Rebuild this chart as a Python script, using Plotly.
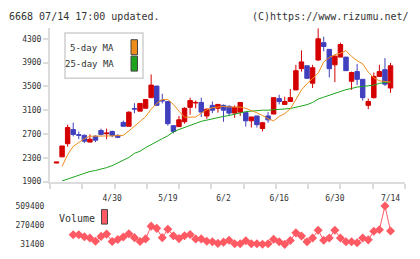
import plotly.graph_objects as go

# ---- data ----
date_labels = ["4/30", "5/19", "6/2", "6/16", "6/30", "7/14"]
label_idx = [10, 20, 30, 40, 50, 60]

opens = [2212, 2316, 2538, 2775, 2690, 2678, 2564, 2662, 2759, 2705,
         2743, 2678, 2895, 2830, 3130, 3085, 3133, 3312, 3507, 3268,
         3247, 2841, 2825, 2906, 3150, 3222, 3231, 3004, 3182, 3133,
         3182, 3166, 3052, 3069, 3060, 2922, 3004, 2793, 3004, 3036,
         3296, 3198, 3247, 3442, 3799, 3848, 3555, 3945, 4237, 4124,
         3864, 3994, 3994, 3588, 3750, 3620, 3182, 3312, 3669, 3783,
         3474]
highs = [2228, 2499, 2858, 2890, 2743, 2694, 2694, 2678, 2791, 2791,
         2759, 2694, 2927, 3083, 3219, 3215, 3280, 3702, 3507, 3377,
         3247, 2841, 3004, 3150, 3312, 3263, 3312, 3133, 3247, 3198,
         3198, 3182, 3182, 3231, 3060, 2987, 3004, 2906, 3069, 3312,
         3361, 3328, 3458, 3864, 4107, 3848, 3864, 4481, 4335, 4124,
         4026, 4237, 3994, 3750, 3880, 3620, 3296, 3734, 3864, 3977,
         3896]
lows = [2212, 2316, 2489, 2661, 2613, 2548, 2564, 2564, 2678, 2613,
        2645, 2629, 2830, 2830, 3050, 3085, 3133, 3312, 3182, 3215,
        2841, 2712, 2825, 2874, 3025, 3133, 2987, 2955, 3052, 3060,
        2906, 3004, 2971, 3004, 2825, 2809, 2809, 2744, 2890, 3036,
        3198, 3198, 3247, 3442, 3750, 3637, 3474, 3929, 4091, 3653,
        3572, 3994, 3766, 3442, 3523, 3263, 3117, 3296, 3669, 3507,
        3393]
closes = [2228, 2499, 2809, 2694, 2680, 2580, 2613, 2597, 2694, 2716,
          2678, 2645, 2830, 3067, 3120, 3215, 3280, 3523, 3182, 3258,
          2874, 2744, 2939, 3133, 3263, 3231, 3069, 3117, 3101, 3198,
          3101, 3052, 3150, 3231, 2922, 2987, 2858, 2890, 2939, 3312,
          3247, 3247, 3312, 3766, 3913, 3637, 3815, 4302, 4172, 3799,
          4010, 4205, 3766, 3734, 3620, 3312, 3247, 3669, 3750, 3539,
          3848]

ma5 = [None, 2155, 2354, 2492, 2565, 2622, 2663, 2668, 2668, 2668,
       2668, 2671, 2679, 2752, 2825, 2911, 2992, 3117, 3215, 3280,
       3280, 3198, 3085, 2983, 2983, 2987, 3052, 3109, 3142, 3158,
       3166, 3155, 3153, 3153, 3133, 3101, 3057, 3012, 2955, 2922,
       2996, 3044, 3125, 3280, 3442, 3547, 3628, 3723, 3913, 3986,
       4034, 4059, 4102, 4005, 3934, 3880, 3742, 3645, 3596, 3580,
       3572]
ma25 = [None, 1911, 1944, 1976, 2001, 2030, 2070, 2087, 2106, 2135,
        2168, 2216, 2252, 2306, 2376, 2411, 2471, 2517, 2565, 2622,
        2671, 2736, 2776, 2809, 2841, 2882, 2914, 2934, 2958, 2979,
        2996, 3012, 3036, 3060, 3077, 3085, 3096, 3101, 3101, 3106,
        3109, 3114, 3129, 3150, 3169, 3194, 3231, 3288, 3320, 3353,
        3385, 3421, 3447, 3466, 3491, 3499, 3507, 3523, 3552, 3567,
        3580]

volumes = [None, None, None,
           151000, 151000, 127000, 111500, 70800, 130600, 159300, 67250, 91150, 123400,
           162850, 115000, 67250, 99500, 258500, 231000, 115000, 219000, 139000, 103100,
           139000, 154500, 99500, 99500, 70800, 63700, 43350, 58900, 82800, 39800,
           39800, 75600, 39800, 39800, 33000, 39800, 94700, 63700, 31400, 79200,
           174800, 135400, 63700, 111500, 207000, 82800, 111500, 207000, 111500, 63700,
           63700, 51700, 111500, 87600, 195100, 214200, 509400, 198700]

price_ticks = [1900, 2300, 2700, 3100, 3500, 3900, 4300]
vol_ticks = [31400, 270400, 509400]

# ---- figure ----
W, H = 420, 259
FONT = "DejaVu Sans Mono"
x = list(range(len(opens)))

def px(v):
    return v / W

def py(v):
    return 1 - v / H

fig = go.Figure()
fig.add_trace(go.Scatter(x=x, y=ma25, mode="lines", line=dict(color="#1ca51c", width=1),
                         hoverinfo="skip"))
fig.add_trace(go.Scatter(x=x, y=ma5, mode="lines", line=dict(color="#f08c1a", width=1),
                         hoverinfo="skip"))
fig.add_trace(go.Candlestick(
    x=x, open=opens, high=highs, low=lows, close=closes,
    increasing=dict(line=dict(color="#d40000", width=1), fillcolor="#d40000"),
    decreasing=dict(line=dict(color="#4040bf", width=1), fillcolor="#4040bf"),
    whiskerwidth=0, hoverinfo="skip"))
fig.add_trace(go.Scatter(x=x, y=volumes, xaxis="x2", yaxis="y2", mode="lines+markers",
                         line=dict(color="#ff5a64", width=1),
                         marker=dict(symbol="diamond", size=7, color="#ff5a64"),
                         cliponaxis=False, hoverinfo="skip"))

xr = [-1.17, 62.6]
axis_col = "#dcdcdc"
fig.update_layout(
    width=W, height=H, margin=dict(l=0, r=0, t=0, b=0),
    paper_bgcolor="white", plot_bgcolor="white", showlegend=False,
    boxgap=0.2, boxgroupgap=0,
    font=dict(family=FONT, size=8, color="#333333"),
    xaxis=dict(domain=[px(50), px(405)], range=xr, anchor="y",
               rangeslider=dict(visible=False),
               tickmode="array", tickvals=label_idx, ticktext=date_labels,
               ticks="outside", ticklen=8, tickcolor="rgba(0,0,0,0)",
               showline=True, linecolor=axis_col, linewidth=2,
               showgrid=False, zeroline=False,
               tickfont=dict(family=FONT, size=8, color="#333333"),
               minor=dict(ticks="outside", ticklen=5, tickcolor=axis_col, tickwidth=2,
                          tickmode="linear", tick0=xr[0], dtick=(xr[1] - xr[0]) / 11,
                          showgrid=False)),
    yaxis=dict(domain=[py(184), py(25)], range=[1900, 4481], anchor="x",
               tickmode="array", tickvals=price_ticks,
               ticks="outside", ticklen=5, tickcolor=axis_col, tickwidth=2,
               showline=True, linecolor=axis_col, linewidth=2,
               showgrid=False, zeroline=False,
               tickfont=dict(family=FONT, size=8, color="#333333")),
    xaxis2=dict(domain=[px(50), px(405)], range=xr, anchor="y2", visible=False),
    yaxis2=dict(domain=[py(249), py(209.3)], range=[vol_ticks[0], vol_ticks[-1]], anchor="x2",
                tickmode="array", tickvals=vol_ticks, ticktext=[str(v) for v in vol_ticks],
                ticks="outside", ticklen=3, tickcolor="rgba(0,0,0,0)",
                showline=False, showgrid=False, zeroline=False,
                tickfont=dict(family=FONT, size=8, color="#333333")),
)

ann = [
    dict(text="6668 07/14 17:00 updated.", x=px(7), y=py(13), xanchor="left", yanchor="middle",
         font=dict(size=10)),
    dict(text="(C)https://www.rizumu.net/", x=px(411), y=py(13), xanchor="right", yanchor="middle",
         font=dict(size=10)),
    dict(text="5-day MA", x=px(116), y=py(45.5), xanchor="right", yanchor="middle",
         font=dict(size=9)),
    dict(text="25-day MA", x=px(116), y=py(62.5), xanchor="right", yanchor="middle",
         font=dict(size=9)),
    dict(text="Volume", x=px(57), y=py(222), xanchor="left", yanchor="middle",
         font=dict(size=10)),
]
for a in ann:
    a.update(xref="paper", yref="paper", showarrow=False)
    a["font"] = dict(family=FONT, color="#333333", **a["font"])
fig.update_layout(annotations=ann)

shapes = [
    dict(type="rect", x0=px(65), x1=px(143), y0=py(77), y1=py(30),
         line=dict(color="#d0d0d0", width=1.5), fillcolor="white"),
    dict(type="rect", x0=px(131), x1=px(137.5), y0=py(52.5), y1=py(37),
         line=dict(color="#444444", width=1), fillcolor="#f08c1a"),
    dict(type="rect", x0=px(131), x1=px(137.5), y0=py(69.5), y1=py(54),
         line=dict(color="#444444", width=1), fillcolor="#1ca51c"),
    dict(type="rect", x0=px(101.5), x1=px(107.5), y0=py(228), y1=py(213),
         line=dict(color="#444444", width=1), fillcolor="#ff5a64"),
]
for s in shapes:
    s.update(xref="paper", yref="paper")
fig.update_layout(shapes=shapes)

fig.write_html("out.html")
